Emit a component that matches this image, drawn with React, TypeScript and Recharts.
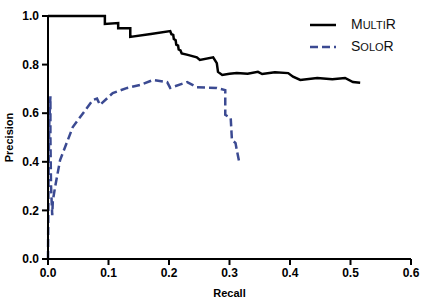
import React from 'react';
import { LineChart, Line, XAxis, YAxis } from 'recharts';

const multiRecall = [0, 0.094, 0.094, 0.116, 0.116, 0.124, 0.136, 0.136, 0.17, 0.202, 0.204, 0.207, 0.208, 0.211, 0.212, 0.215, 0.216, 0.219, 0.221, 0.231, 0.246, 0.251, 0.273, 0.279, 0.281, 0.288, 0.3, 0.312, 0.33, 0.347, 0.354, 0.375, 0.397, 0.405, 0.417, 0.445, 0.47, 0.491, 0.504, 0.516];
const multiPrecision = [1.0, 1.0, 0.967, 0.971, 0.95, 0.95, 0.95, 0.914, 0.926, 0.938, 0.925, 0.922, 0.905, 0.9, 0.882, 0.878, 0.862, 0.858, 0.846, 0.84, 0.83, 0.819, 0.83, 0.806, 0.77, 0.757, 0.762, 0.765, 0.762, 0.77, 0.761, 0.768, 0.765, 0.75, 0.737, 0.745, 0.74, 0.745, 0.728, 0.725];

const soloRecall = [0, 0.001, 0.002, 0.004, 0.004, 0.005, 0.007, 0.008, 0.012, 0.02, 0.041, 0.074, 0.081, 0.086, 0.107, 0.131, 0.152, 0.174, 0.197, 0.202, 0.23, 0.246, 0.279, 0.293, 0.293, 0.293, 0.302, 0.304, 0.31, 0.312, 0.316];
const soloPrecision = [0, 0.35, 0.55, 0.67, 0.5, 0.3, 0.18, 0.24, 0.3, 0.407, 0.543, 0.654, 0.66, 0.634, 0.683, 0.704, 0.716, 0.737, 0.728, 0.704, 0.728, 0.707, 0.704, 0.695, 0.654, 0.593, 0.58, 0.49, 0.477, 0.449, 0.4];

const xTicks = [0, 0.1, 0.2, 0.3, 0.4, 0.5, 0.6];
const yTicks = [0, 0.2, 0.4, 0.6, 0.8, 1.0];

const multiData = multiRecall.map((x, i) => ({ x, y: multiPrecision[i] }));
const soloData = soloRecall.map((x, i) => ({ x, y: soloPrecision[i] }));

const BLUE = '#3b4a92';
const FONT = '"Liberation Sans", Arial, sans-serif';

const SmallCaps = ({ big1, small, big2 }: { big1: string; small: string; big2: string }) => (
    <span style={{ fontSize: 14 }}>
        {big1}<span style={{ fontSize: 11 }}>{small}</span>{big2}
    </span>
);

// legend drawn as an overlay so it doesn't eat plot width
const LegendBox = () => (
    <div style={{ position: 'absolute', left: 309, top: 14, fontFamily: FONT, color: '#111', lineHeight: '21px' }}>
        <div style={{ display: 'flex', alignItems: 'center' }}>
            <svg width={42} height={20}>
                <line x1={1} y1={10} x2={27} y2={10} stroke="#000" strokeWidth={2.5} />
            </svg>
            <SmallCaps big1="M" small="ULTI" big2="R" />
        </div>
        <div style={{ display: 'flex', alignItems: 'center' }}>
            <svg width={42} height={20}>
                <line x1={1} y1={10} x2={27} y2={10} stroke={BLUE} strokeWidth={2.5} strokeDasharray="8 4" />
            </svg>
            <SmallCaps big1="S" small="OLO" big2="R" />
        </div>
    </div>
);

export default function App() {
    return (
        <div style={{ position: 'absolute', left: 0, top: 0, width: 426, height: 300, background: '#fff' }}>
            <LineChart width={426} height={300} margin={{ top: 16, right: 15, bottom: 0, left: 0 }}>
                <XAxis
                    type="number"
                    dataKey="x"
                    domain={[0, 0.6]}
                    ticks={xTicks}
                    tickFormatter={(v: number) => v.toFixed(1)}
                    height={41}
                    stroke="#000"
                    strokeWidth={2}
                    tickSize={6}
                    tickMargin={3}
                    tick={{ fill: '#000', fontSize: 12, fontWeight: 'bold', fontFamily: FONT }}
                    label={{ value: 'Recall', position: 'insideBottom', offset: 3, fill: '#000', fontSize: 11, fontWeight: 'bold', fontFamily: FONT }}
                />
                <YAxis
                    type="number"
                    dataKey="y"
                    domain={[0, 1]}
                    ticks={yTicks}
                    tickFormatter={(v: number) => v.toFixed(1)}
                    width={48}
                    stroke="#000"
                    strokeWidth={2}
                    tickSize={6}
                    tickMargin={3}
                    tick={{ fill: '#000', fontSize: 12, fontWeight: 'bold', fontFamily: FONT }}
                    label={{ value: 'Precision', angle: -90, position: 'insideLeft', offset: 9, fill: '#000', fontSize: 11, fontWeight: 'bold', fontFamily: FONT, style: { textAnchor: 'middle' } }}
                />
                <Line data={soloData} dataKey="y" type="linear" stroke={BLUE} strokeWidth={2.5} strokeDasharray="8 4" dot={false} isAnimationActive={false} />
                <Line data={multiData} dataKey="y" type="linear" stroke="#000" strokeWidth={2.5} dot={false} isAnimationActive={false} />
            </LineChart>
            <LegendBox />
        </div>
    );
}
